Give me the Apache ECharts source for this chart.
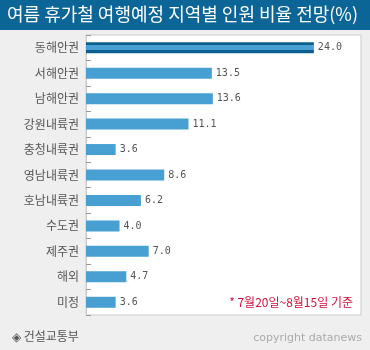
<!DOCTYPE html>
<html><head><meta charset="utf-8">
<script src="https://cdn.jsdelivr.net/npm/echarts@6/dist/echarts.min.js"></script>
<style>html,body{margin:0;padding:0;background:#efefef;}#c{width:370px;height:350px;}</style>
</head><body><div id="c"></div>
<script>
var categories = ['동해안권','서해안권','남해안권','강원내륙권','충청내륙권','영남내륙권','호남내륙권','수도권','제주권','해외','미정'];
var values = [24.0, 13.5, 13.6, 11.1, 3.6, 8.6, 6.2, 4.0, 7.0, 4.7, 3.6];
var titleText = '여름 휴가철 여행예정 지역별 인원 비율 전망(%)';
var noteText = '* 7월20일~8월15일 기준';
var sourceText = '◈ 건설교통부';
var copyText = 'copyright datanews';

var dark = '#0b5f8f', light = '#489fd1';
var seriesData = values.map(function(v, i){
  if (i === 0) {
    return {value: v, itemStyle: {color: {type:'linear', x:0, y:0, x2:0, y2:1, colorStops:[
      {offset:0, color:dark},{offset:0.27, color:dark},{offset:0.28, color:light},
      {offset:0.72, color:light},{offset:0.73, color:dark},{offset:1, color:dark}]}}};
  }
  return v;
});
var chart = echarts.init(document.getElementById('c'), null, {renderer:'canvas'});
chart.setOption({
  backgroundColor: '#efefef',
  animation: false,
  grid: {left: 86, top: 35, width: 275, height: 280, show: true, backgroundColor: '#fff', borderColor: '#cccccc', borderWidth: 1},
  xAxis: {type:'value', min: 0.55, max: 28.85, show: false},
  yAxis: {type:'category', inverse: true, data: categories,
    axisLine: {show: true, lineStyle: {color: '#cccccc'}},
    axisTick: {show: true, inside: true, length: 5, lineStyle: {color: '#999'}},
    axisLabel: {margin: 7, color: '#555', fontSize: 12, fontFamily: 'Noto Sans CJK KR'}},
  series: [{type:'bar', data: seriesData, barWidth: 11, itemStyle: {color: light},
    label: {show: true, position: 'right', distance: 4, color: '#555', fontSize: 10, fontFamily: 'DejaVu Sans Mono',
      formatter: function(p){ return p.value.toFixed(1); }}}],
  graphic: [
    {type:'rect', left: 0, top: 0, shape: {width: 370, height: 30}, style: {fill: '#0b6597'}, z: 10},
    {type:'text', x: 7, y: 14, style: {text: titleText, fill: '#fff', font: '18px "Noto Sans CJK KR"', textVerticalAlign: 'middle'}, z: 11},
    {type:'text', x: 353, y: 302, style: {text: noteText, fill: '#d0103a', font: '12px "Noto Sans CJK KR"', textAlign: 'right', textVerticalAlign: 'middle'}, z: 11},
    {type:'text', x: 12, y: 336, style: {text: sourceText, fill: '#555', font: '12px "Noto Sans CJK KR"', textVerticalAlign: 'middle'}, z: 11},
    {type:'text', x: 362, y: 338, style: {text: copyText, fill: '#aaa', font: '11px "DejaVu Sans"', textAlign: 'right', textVerticalAlign: 'middle'}, z: 11}
  ]
});
</script></body></html>
